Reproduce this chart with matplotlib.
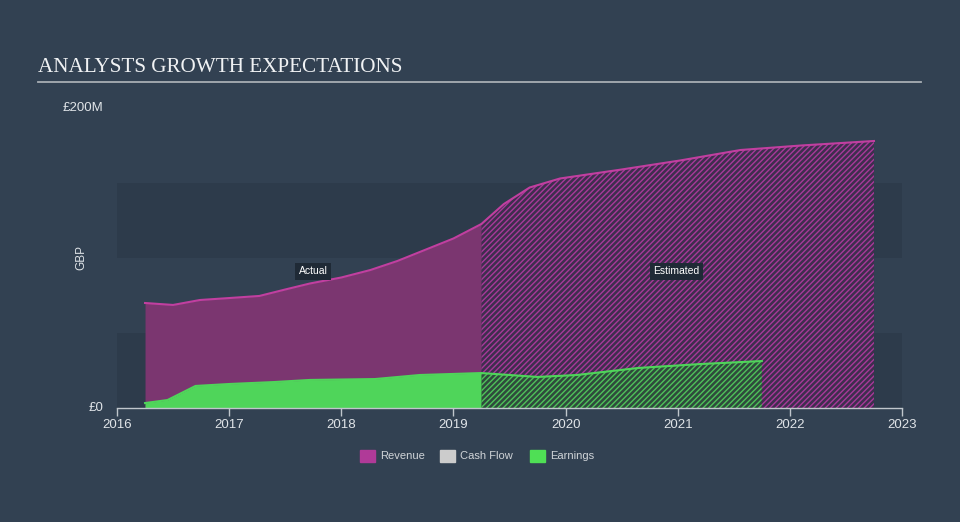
import numpy as np
import matplotlib
matplotlib.use("Agg")
from matplotlib import pyplot as plt

# values (GBP millions)
rev_x = [2016.25, 2016.5, 2016.74, 2017.0, 2017.27, 2017.5, 2017.72, 2018.0, 2018.26,
         2018.5, 2018.7, 2019.0, 2019.25, 2019.45, 2019.68, 2019.95, 2020.5, 2021.02,
         2021.56, 2022.1, 2022.75]
rev_y = [70, 68.7, 72, 73.3, 74.7, 79, 83, 87, 92, 98, 104, 113, 122.7, 136, 147, 153,
         159, 165, 172, 175, 178]
earn_x = [2016.25, 2016.45, 2016.7, 2017.0, 2017.4, 2017.72, 2018.3, 2018.7, 2019.25,
          2019.75, 2020.1, 2020.65, 2021.2, 2021.75]
earn_y = [3.3, 5.3, 14.7, 16, 17.3, 18.7, 19.3, 22, 23.3, 20.7, 22, 26.7, 29.3, 31.3]
split = 2019.25
years = [2016, 2017, 2018, 2019, 2020, 2021, 2022, 2023]
ymax = 200

bg = '#324152'
band = '#2d3b4b'
rev_c = '#7b3670'
rev_line = '#c13fa0'
earn_c = '#4fd55a'

plt.rcParams['font.family'] = ['Liberation Sans', 'DejaVu Sans']
plt.rcParams['hatch.linewidth'] = 1.0
fig = plt.figure(figsize=(9.6, 5.22), dpi=100)
fig.patch.set_facecolor(bg)
ax = fig.add_axes([117/960, 1-408/522, (902-117)/960, 300/522])
ax.set_facecolor(bg)
ax.set_xlim(2016, 2023)
ax.set_ylim(0, ymax)

for lo in (0, 100):
    ax.axhspan(lo, lo + 50, color=band, lw=0, zorder=0)

rx = np.array(rev_x); ry = np.array(rev_y)
ex = np.array(earn_x); ey = np.array(earn_y)

# revenue
ax.fill_between(rx, 0, ry, where=rx <= split, color=rev_c, lw=0, zorder=1)
ax.fill_between(rx, 0, ry, where=rx >= split, facecolor='#3e2e4e', edgecolor='#a8399a',
                hatch='//////', lw=0, zorder=1)
ax.plot(rx, ry, color=rev_line, lw=1.5, zorder=3)

# earnings
ax.fill_between(ex, 0, ey, where=ex <= split, color=earn_c, lw=0, zorder=2)
ax.fill_between(ex, 0, ey, where=ex >= split, facecolor='#2f4a3c', edgecolor='#4fc25a',
                hatch='//////', lw=0, zorder=2)
ax.plot(ex, ey, color=earn_c, lw=1.5, zorder=3)

for s in ['top', 'right', 'left']:
    ax.spines[s].set_visible(False)
ax.spines['bottom'].set_color('#c0c6cc')
ax.spines['bottom'].set_linewidth(1)
ax.set_xticks(years)
ax.set_xticklabels([str(y) for y in years], fontsize=9.5)
ax.tick_params(axis='x', colors='#c0c6cc', length=6, width=1, pad=2, labelcolor='#e0e4e8')
ax.set_yticks([0, ymax])
ax.set_yticklabels(['£0', '£200M'], fontsize=9.5, color='#e0e4e8')
ax.tick_params(axis='y', length=0, pad=10)
for lbl in ax.get_yticklabels():
    lbl.set_verticalalignment('center')
ax.set_ylabel('GBP', color='#e0e4e8', fontsize=8.5)
ax.yaxis.set_label_coords(-0.038, 0.5)

box = dict(boxstyle='square,pad=0.35', facecolor='#1f2a36', edgecolor='none')
ax.text(2017.75, 91, 'Actual', color='white', fontsize=7.5, ha='center', va='center', bbox=box, zorder=5)
ax.text(2020.99, 91, 'Estimated', color='white', fontsize=7.5, ha='center', va='center', bbox=box, zorder=5)

fig.text(38/960, 1-67/522, 'ANALYSTS GROWTH EXPECTATIONS', family='Liberation Serif',
         fontsize=15.2, color='#f0f2f4', va='center')
fig.add_artist(plt.Line2D([38/960, 921/960], [1-82/522, 1-82/522], color='#a8aeb4', lw=1.3))

# legend
leg_items = [('Revenue', '#b03a98', 360), ('Cash Flow', '#cccccc', 440), ('Earnings', '#4fdf55', 530)]
for name, col, px in leg_items:
    fig.patches.append(plt.Rectangle((px/960, 1-462/522), 15/960, 12/522, color=col,
                                     transform=fig.transFigure, figure=fig))
    fig.text((px + 20)/960, 1-456/522, name, fontsize=8, color='#d0d4d8', va='center')

fig.savefig('out.png', dpi=100, facecolor=bg)
